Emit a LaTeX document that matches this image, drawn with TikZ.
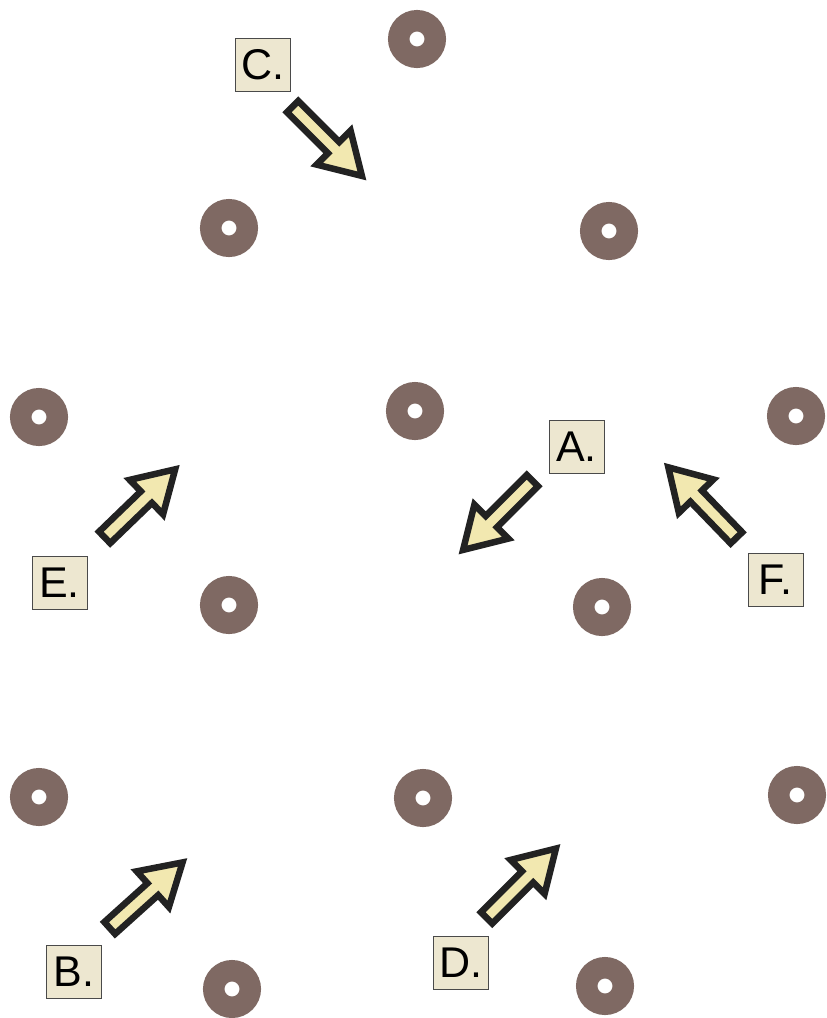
\documentclass[tikz,border=0pt]{standalone}
\usepackage{fontspec}
\setmainfont{Liberation Sans}
\definecolor{dotc}{HTML}{7F6963}
\definecolor{boxfill}{HTML}{EDE7D0}
\definecolor{boxline}{HTML}{4A4A4A}
\definecolor{arrfill}{HTML}{F2E8B0}
\definecolor{arrline}{HTML}{222222}
\tikzset{
  ring/.style={circle, draw=dotc, line width=21.5pt, minimum size=36.5pt, inner sep=0pt},
  labelbox/.style={draw=boxline, line width=0.8pt, fill=boxfill, minimum width=55pt, minimum height=53pt, inner sep=0pt, font=\fontsize{43}{50}\selectfont},
  arrowstyle/.style={draw=arrline, fill=arrfill, line width=6.5pt, line join=miter, miter limit=10},
  barrow/.pic={\draw[arrowstyle] (3,-8) -- (61,-8) -- (61,-24) -- (101,0) -- (61,24) -- (61,8) -- (3,8) -- cycle;}
}
\begin{document}
\begin{tikzpicture}[x=1pt, y=-1pt]
\useasboundingbox[fill=white] (0,0) rectangle (827,1018);
% rings
\node[ring] (r1) at (417,39) {};
\node[ring] (r2) at (229,228) {};
\node[ring] (r3) at (609,231) {};
\node[ring] (r4) at (39,417) {};
\node[ring] (r5) at (415,411) {};
\node[ring] (r6) at (796,416) {};
\node[ring] (r7) at (229,605) {};
\node[ring] (r8) at (602,607) {};
\node[ring] (r9) at (39,797) {};
\node[ring] (r10) at (423,798) {};
\node[ring] (r11) at (797,795) {};
\node[ring] (r12) at (232,989) {};
\node[ring] (r13) at (605,986) {};
% arrows
\pic[rotate=-45] (arrC) at (290.5,104.5) {barrow};
\pic[rotate=-135] (arrA) at (534.5,478.5) {barrow};
\pic[rotate=44] (arrE) at (102.5,539.5) {barrow};
\pic[rotate=134] (arrF) at (738.5,540) {barrow};
\pic[rotate=42] (arrB) at (107.5,930) {barrow};
\pic[rotate=45] (arrD) at (484.5,920) {barrow};
% labels
\node[labelbox] (lC) at (263,64.5) {C.};
\node[labelbox] (lA) at (576.5,446.5) {A.};
\node[labelbox] (lE) at (59.5,583) {E.};
\node[labelbox] (lF) at (775.5,580) {F.};
\node[labelbox] (lB) at (74,972) {B.};
\node[labelbox] (lD) at (461,962.5) {D.};
\end{tikzpicture}
\end{document}
